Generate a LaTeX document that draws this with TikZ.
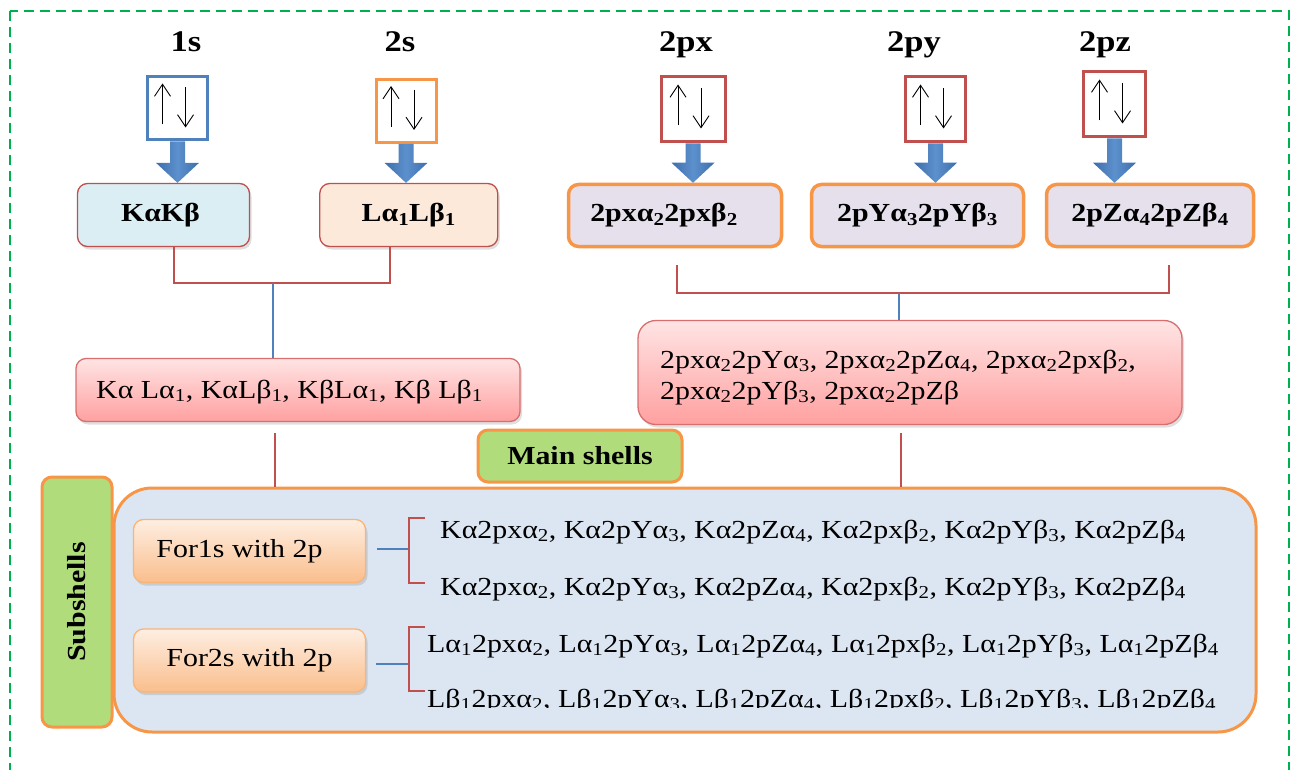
\documentclass[tikz,border=0pt]{standalone}
\usepackage{fontspec}
\setmainfont{Liberation Serif}[FakeStretch=1.15]
\usetikzlibrary{shadows,calc,arrows.meta}
\definecolor{cblue}{RGB}{79,129,189}
\definecolor{corange}{RGB}{247,150,70}
\definecolor{cred}{RGB}{192,80,77}
\definecolor{cgreen}{RGB}{0,176,80}
\definecolor{lblue}{RGB}{218,238,243}
\definecolor{lpeach}{RGB}{253,233,217}
\definecolor{lavender}{RGB}{229,224,236}
\definecolor{pinktop}{RGB}{255,228,228}
\definecolor{pinkbot}{RGB}{255,160,160}
\definecolor{pinkline}{RGB}{216,110,110}
\definecolor{ftop}{RGB}{254,238,226}
\definecolor{fbot}{RGB}{250,190,140}
\definecolor{fline}{RGB}{249,180,120}
\definecolor{lgreen}{RGB}{176,220,124}
\definecolor{bigfill}{RGB}{220,230,242}
\definecolor{arrdark}{RGB}{62,110,172}
\definecolor{arrlight}{RGB}{92,145,205}
\newcommand\sbs[1]{\textsubscript{#1}}
\newcommand\blockarr[2]{%
  \shade[left color=arrdark,right color=arrdark,middle color=arrlight]
    let \p1=(#1.south), \p2=(#2.north) in
    (\x1-7.5pt,\y1) -- (\x1+7.5pt,\y1) -- (\x1+7.5pt,\y2+20pt) -- (\x1+21.5pt,\y2+20pt)
    -- (\x1,\y2) -- (\x1-21.5pt,\y2+20pt) -- (\x1-7.5pt,\y2+20pt) -- cycle;}
\begin{document}
\begin{tikzpicture}[x=1pt,y=-1pt,
  txt/.style={font=\fontsize{26}{30}\selectfont},
  btxt/.style={font=\bfseries\fontsize{26}{30}\selectfont},
  lbl/.style={font=\bfseries\fontsize{30}{34}\selectfont, anchor=base},
  orb/.style={draw=#1, line width=3pt, fill=white, minimum width=60pt, minimum height=63pt, inner sep=0pt},
  spin/.style={line width=0.9pt, -{Straight Barb[length=12pt,width=16pt]}},
  shad/.style={drop shadow={shadow xshift=2pt,shadow yshift=-3pt,opacity=0.25}},
  rbox/.style={rounded corners=10pt, draw=cred, line width=1.3pt, inner sep=0pt, shad, btxt, minimum height=63pt},
  obox/.style={rounded corners=10pt, draw=corange, line width=3.5pt, fill=lavender, inner sep=0pt, btxt, minimum height=62pt},
  pbox/.style={rounded corners=#1, draw=pinkline, line width=1.3pt, top color=pinktop, bottom color=pinkbot, shad, inner sep=0pt},
  gbox/.style={rounded corners=10pt, draw=corange, line width=3pt, fill=lgreen, inner sep=0pt, btxt},
  fbox/.style={rounded corners=10pt, draw=fline, line width=1.3pt, top color=ftop, bottom color=fbot, shad, txt, minimum width=232pt, minimum height=63pt, inner sep=0pt},
  redl/.style={draw=cred, line width=2pt},
  bluel/.style={draw=cblue, line width=2pt},
  row/.style={txt, anchor=base west, inner sep=0pt}]
\useasboundingbox (0,0) rectangle (1295,770);
% outer dashed frame
\draw[cgreen, line width=2pt, dash pattern=on 10pt off 6pt] (9.5,11) rectangle (1288.5,800);

% top labels
\node[lbl] (t1) at (186,52) {1s};
\node[lbl] (t2) at (400,52) {2s};
\node[lbl] (t3) at (686,52) {2px};
\node[lbl] (t4) at (914,52) {2py};
\node[lbl] (t5) at (1105,52) {2pz};

% orbital boxes
\node[orb=cblue] (o1) at (177.5,108.5) {};
\node[orb=corange] (o2) at (406,111) {};
\node[orb=cred, minimum width=64pt, minimum height=65pt] (o3) at (693,109.5) {};
\node[orb=cred, minimum height=65pt] (o4) at (935.5,109.5) {};
\node[orb=cred, minimum width=62pt, minimum height=65pt] (o5) at (1114.5,104.5) {};
\foreach \o in {o1,o2,o3,o4,o5}{
  \draw[spin] ([shift={(-15,16)}]\o.center) -- ([shift={(-15,-25)}]\o.center);
  \draw[spin] ([shift={(8,-21)}]\o.center) -- ([shift={(8,19)}]\o.center);
}

% second row
\node[rbox, fill=lblue, minimum width=172pt] (kk) at (163.5,215) {KαKβ\hspace*{6pt}};
\node[rbox, fill=lpeach, minimum width=178pt] (ll) at (408.75,215) {Lα\sbs{1}Lβ\sbs{1}};
\node[obox, minimum width=213pt] (p1) at (675,215.5) {2pxα\sbs{2}2pxβ\sbs{2}\hspace*{22pt}};
\node[obox, minimum width=212pt] (p2) at (917.5,215.5) {2pYα\sbs{3}2pYβ\sbs{3}};
\node[obox, minimum width=207pt] (p3) at (1150,215.5) {2pZα\sbs{4}2pZβ\sbs{4}};

% block arrows
\blockarr{o1}{kk}
\blockarr{o2}{ll}
\blockarr{o3}{p1}
\blockarr{o4}{p2}
\blockarr{o5}{p3}

% pink boxes
\node[pbox=10pt, minimum width=444pt, minimum height=63pt] (kl) at (298,390) {};
\node[row] (klt) at (96,398) {Kα Lα\sbs{1}, KαLβ\sbs{1}, KβLα\sbs{1}, Kβ Lβ\sbs{1}};
\node[pbox=18pt, minimum width=544pt, minimum height=104pt] (pr) at (910,372.5) {};
\node[row] (prt1) at (660,368) {2pxα\sbs{2}2pYα\sbs{3}, 2pxα\sbs{2}2pZα\sbs{4}, 2pxα\sbs{2}2pxβ\sbs{2},};
\node[row] (prt2) at (660,399) {2pxα\sbs{2}2pYβ\sbs{3}, 2pxα\sbs{2}2pZβ};

% brackets of main shells
\draw[redl] ([xshift=10pt]kk.south) -- ++(0,36) -| ([xshift=-19pt]ll.south);
\coordinate (lj) at (273,283);
\draw[bluel] (lj) -- (lj |- kl.north);
\draw[redl] ([shift={(2,17)}]p1.south) -- ++(0,28) -| ([shift={(19,17)}]p3.south);
\coordinate (rj) at (899,293);
\draw[bluel] (rj) -- (rj |- pr.north);

% big box of subshells
\node[draw=corange, line width=3pt, fill=bigfill, rounded corners=38pt,
      minimum width=1142pt, minimum height=244pt, inner sep=0pt] (big) at (685,610) {};
\node[gbox, rotate=90, minimum width=250pt, minimum height=70pt] (sb) at (77,602) {Subshells};
\node[gbox, minimum width=204pt, minimum height=52pt] (ms) at (580,456) {Main shells};

\coordinate (ld) at (275,433);
\draw[redl] (ld) -- (ld |- big.north);
\coordinate (rd) at (901,433);
\draw[redl] (rd) -- (rd |- big.north);

% for boxes
\node[fbox] (f1) at (249.5,551) {For1s with 2p\hspace*{20pt}};
\node[fbox] (f2) at (249.5,660.5) {For2s with 2p};

\draw[bluel] ([shift={(11,-2)}]f1.east) -- ++(32,0) coordinate (b1);
\draw[redl] ($(b1)+(16,-31)$) -- ++(-16,0) -- ++(0,65) -- ++(16,0);
\draw[bluel] ([shift={(10,3.5)}]f2.east) -- ++(33,0) coordinate (b2);
\draw[redl] ($(b2)+(16,-37)$) -- ++(-16,0) -- ++(0,64) -- ++(16,0);

% subshell rows
\node[row] (r1) at (440,538) {Kα2pxα\sbs{2}, Kα2pYα\sbs{3}, Kα2pZα\sbs{4}, Kα2pxβ\sbs{2}, Kα2pYβ\sbs{3}, Kα2pZβ\sbs{4}};
\node[row] (r2) at (440,595) {Kα2pxα\sbs{2}, Kα2pYα\sbs{3}, Kα2pZα\sbs{4}, Kα2pxβ\sbs{2}, Kα2pYβ\sbs{3}, Kα2pZβ\sbs{4}};
\node[row] (r3) at (427,652) {Lα\sbs{1}2pxα\sbs{2}, Lα\sbs{1}2pYα\sbs{3}, Lα\sbs{1}2pZα\sbs{4}, Lα\sbs{1}2pxβ\sbs{2}, Lα\sbs{1}2pYβ\sbs{3}, Lα\sbs{1}2pZβ\sbs{4}};
\begin{scope}
\clip (0,0) rectangle (1295,707);
\node[row] (r4) at (427,707) {Lβ\sbs{1}2pxα\sbs{2}, Lβ\sbs{1}2pYα\sbs{3}, Lβ\sbs{1}2pZα\sbs{4}, Lβ\sbs{1}2pxβ\sbs{2}, Lβ\sbs{1}2pYβ\sbs{3}, Lβ\sbs{1}2pZβ\sbs{4}};
\end{scope}
\end{tikzpicture}
\end{document}
